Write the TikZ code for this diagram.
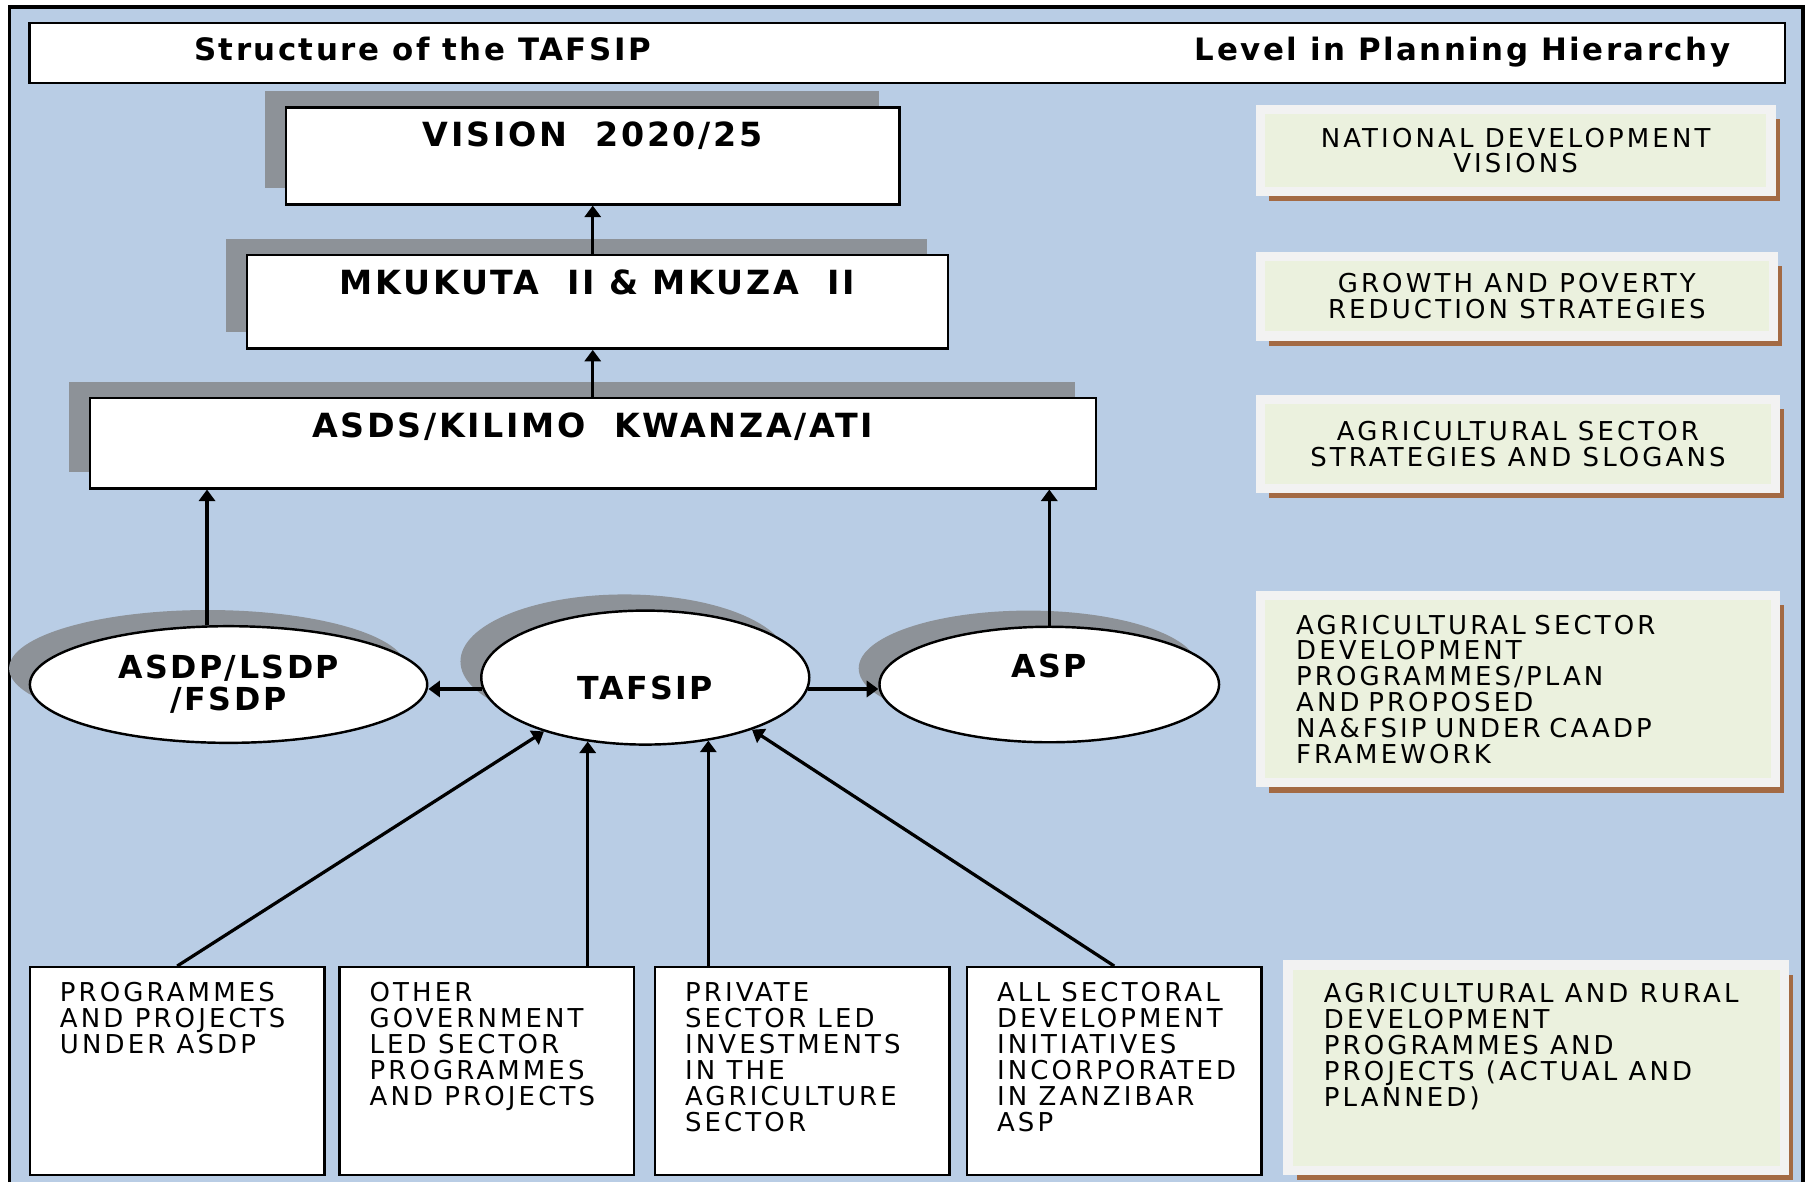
\documentclass[tikz,border=0pt]{standalone}
\usepackage{fontspec}
\setmainfont{DejaVu Sans}
\newfontfamily\headfont[LetterSpace=8]{DejaVu Sans}
\newfontfamily\bodyfont[LetterSpace=12]{DejaVu Sans}
\definecolor{planblue}{RGB}{185,205,229}
\definecolor{shadowgray}{RGB}{141,146,152}
\definecolor{framegray}{RGB}{242,242,242}
\definecolor{tiergreen}{RGB}{235,241,222}
\definecolor{tierbrown}{RGB}{163,106,68}
\usetikzlibrary{positioning, shapes.geometric, shadows, arrows.meta}
\tikzset{
>={Triangle[length=1.0mm, width=1.4mm]}, % small solid arrow heads
greyshadow/.style={drop shadow={shadow xshift=-0.18cm, shadow yshift=0.14cm, fill=shadowgray, opacity=1}}, % shadow up and to the left
headtext/.style={inner sep=0pt, font=\headfont\bfseries\fontsize{7.6}{9}\selectfont}, % heading strip texts
planbox/.style={draw, fill=white, semithick, greyshadow, inner ysep=0pt, text height=0.34cm, text depth=#1, font=\headfont\bfseries\fontsize{8.2}{9}\selectfont}, % #1 sets how far the box reaches below its text
hub/.style={ellipse, draw, fill=white, semithick, greyshadow, inner sep=0pt, align=center, font=\headfont\bfseries\fontsize{7.8}{7.8}\selectfont},
source/.style={draw, fill=white, semithick, inner sep=0pt, minimum width=2.55cm, minimum height=1.8cm},
srctext/.style={anchor=north west, inner sep=0pt, align=left, xshift=0.26cm, yshift=-0.13cm, font=\bodyfont\fontsize{6.4}{6.4}\selectfont},
tier/.style={draw=framegray, line width=0.08cm, fill=tiergreen, align=center, font=\bodyfont\fontsize{6.4}{6.35}\selectfont,
  drop shadow={shadow xshift=0.075cm, shadow yshift=-0.085cm, fill=tierbrown, opacity=1}}, % levels column on the right
}

\begin{document}
\begin{tikzpicture}[x=0.01cm, y=-0.01cm, line width=0.6pt]
      \useasboundingbox (0,0) rectangle (1568,1024);
      \fill[planblue] (8,6) rectangle (1562,1024);
      \draw[line width=0.8pt] (8,1024) |- (1562,6) -- (1562,1024);

      % heading strip
      \node[draw, fill=white, semithick, inner sep=0pt, minimum width=15.2cm, minimum height=0.52cm] (head) at (786,46) {};
      \node[headtext, anchor=base] (headleft) at (366,52) {Structure of the TAFSIP};
      \node[headtext, anchor=base] (headright) at (1267,52) {Level in Planning Hierarchy};

      % structure of the TAFSIP
      \node[planbox=0.50cm, minimum width=5.31cm] (vision) at (513.5,135) {VISION\ \ 2020/25};
      \node[planbox=0.47cm, minimum width=6.07cm] (mkukuta) at (517.5,261.5) {MKUKUTA\ \ II \& MKUZA\ \ II};
      \node[planbox=0.44cm, minimum width=8.71cm] (asds) at (513.5,384) {ASDS/KILIMO\ \ KWANZA/ATI};

      \node[hub, minimum width=3.44cm, minimum height=1.01cm] (asdp) at (198,593) {ASDP/LSDP\\/FSDP};
      \node[hub, minimum width=2.84cm, minimum height=1.16cm, text height=0.38cm, text depth=0pt] (tafsip) at (559,587) {TAFSIP};
      \node[hub, minimum width=2.94cm, minimum height=1.0cm, text height=0.2cm, text depth=0.32cm] (asp) at (909,593) {ASP};

      \node[source, label={[srctext]north west:PROGRAMMES\\AND PROJECTS\\UNDER ASDP}] (asdpprog) at (153.5,928) {};
      \node[source, right=0.11cm of asdpprog, label={[srctext]north west:OTHER\\GOVERNMENT\\LED SECTOR\\PROGRAMMES\\AND PROJECTS}] (govprog) {};
      \node[source, right=0.16cm of govprog, label={[srctext]north west:PRIVATE\\SECTOR LED\\INVESTMENTS\\IN THE\\AGRICULTURE\\SECTOR}] (privprog) {};
      \node[source, right=0.13cm of privprog, label={[srctext]north west:ALL SECTORAL\\DEVELOPMENT\\INITIATIVES\\INCORPORATED\\IN ZANZIBAR\\ASP}] (zanprog) {};

      \path[->, line width=0.8pt] (mkukuta.north -| vision.south) edge (vision.south)
      (asds.north -| vision.south) edge (mkukuta.south -| vision.south)
      (asdp.110) edge (asdp.110 |- asds.south)
      (asp.north) edge (asp.north |- asds.south)
      (tafsip.184) edge (tafsip.184 -| asdp.east)
      (tafsip.356) edge (tafsip.356 -| asp.west)
      (asdpprog.north) edge (tafsip.208)
      (tafsip.228 |- govprog.north) edge (tafsip.228)
      (tafsip.315 |- privprog.north) edge (tafsip.315)
      (zanprog.north) edge (tafsip.334);

      % level in planning hierarchy
      \node[tier, minimum width=4.42cm, minimum height=0.71cm] (visions) at (1313,130.5) {NATIONAL DEVELOPMENT\\VISIONS};
      \node[tier, minimum width=4.44cm, minimum height=0.69cm] (growth) at (1314,256.5) {GROWTH AND POVERTY\\REDUCTION STRATEGIES};
      \node[tier, minimum width=4.46cm, minimum height=0.77cm] (slogans) at (1315,384.5) {AGRICULTURAL SECTOR\\STRATEGIES AND SLOGANS};
      \node[tier, minimum height=1.62cm, text width=3.84cm, inner xsep=0.31cm, align=left] (caadp) at (1315,597) {AGRICULTURAL SECTOR\\DEVELOPMENT\\PROGRAMMES/PLAN\\AND PROPOSED\\NA\&FSIP UNDER CAADP\\FRAMEWORK};
      \node[tier, minimum width=4.30cm, minimum height=1.78cm, label={[srctext, xshift=0.08cm, yshift=-0.06cm]north west:AGRICULTURAL AND RURAL\\DEVELOPMENT\\PROGRAMMES AND\\PROJECTS (ACTUAL AND\\PLANNED)}] (rural) at (1331,925) {};
\end{tikzpicture}
\end{document}
